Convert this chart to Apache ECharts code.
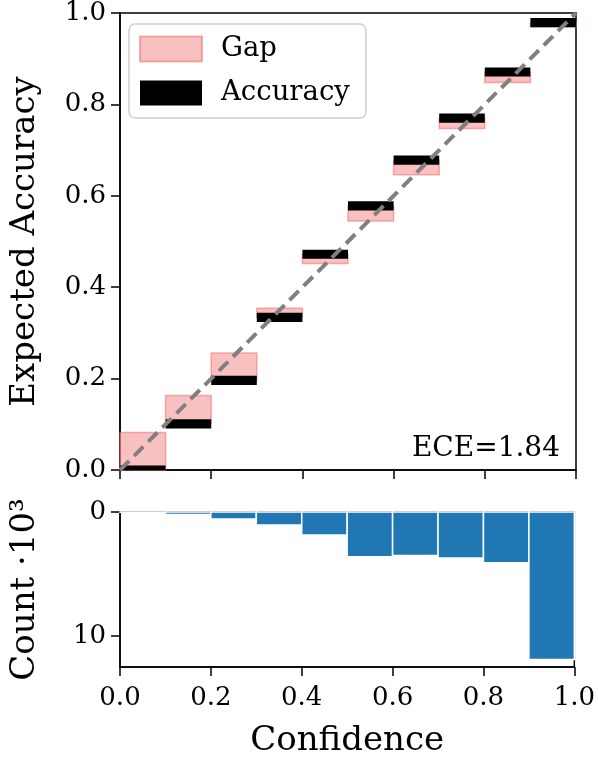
<!DOCTYPE html>
<html>
<head>
<meta charset="utf-8">
<script src="https://cdn.jsdelivr.net/npm/echarts@6/dist/echarts.min.js"></script>
<style>
  html, body { margin: 0; padding: 0; background: #fff; }
  #main { width: 598px; height: 759px; }
</style>
</head>
<body>
<div id="main"></div>
<script>
  // bins of the reliability diagram
  var binStart = [0.0, 0.1, 0.2, 0.3, 0.4, 0.5, 0.6, 0.7, 0.8, 0.9];
  var binEnd = [0.1, 0.2, 0.3, 0.4, 0.5, 0.6, 0.7, 0.8, 0.9, 1.0];
  // mean accuracy and mean confidence per bin
  var accuracy = [0.0, 0.101, 0.196, 0.334, 0.472, 0.578, 0.678, 0.770, 0.871, 0.979];
  var confidence = [0.082, 0.163, 0.256, 0.354, 0.452, 0.545, 0.646, 0.747, 0.848, 0.970];
  // samples per bin, in thousands
  var counts = [0.03, 0.2, 0.56, 1.05, 1.85, 3.6, 3.5, 3.7, 4.1, 11.9];
  var eceText = 'ECE=1.84';

  var font = 'DejaVu Serif';
  var accHalf = 0.01;

  var gapData = [], accData = [], countData = [];
  for (var i = 0; i < binStart.length; i++) {
    gapData.push([binStart[i], binEnd[i], accuracy[i], confidence[i]]);
    accData.push([binStart[i], binEnd[i], accuracy[i] - accHalf, accuracy[i] + accHalf]);
    countData.push([binStart[i], binEnd[i], 0, counts[i]]);
  }

  function rectItem(params, api) {
    var p0 = api.coord([api.value(0), api.value(2)]);
    var p1 = api.coord([api.value(1), api.value(3)]);
    var shape = echarts.graphic.clipRectByRect({
      x: Math.min(p0[0], p1[0]),
      y: Math.min(p0[1], p1[1]),
      width: Math.abs(p1[0] - p0[0]),
      height: Math.abs(p1[1] - p0[1])
    }, {
      x: params.coordSys.x, y: params.coordSys.y,
      width: params.coordSys.width, height: params.coordSys.height
    });
    return shape && { type: 'rect', shape: shape, style: api.style() };
  }

  var tickFmt = function (v) { return v.toFixed(1); };
  var labelStyle = { fontFamily: font, fontSize: 26, color: '#000' };
  var nameStyle = { fontFamily: font, fontSize: 34, color: '#000' };
  var lineStyle = { color: '#000', width: 1.5 };

  var myChart = echarts.init(document.getElementById('main'));
  var option = {
    backgroundColor: '#fff',
    animation: false,
    textStyle: { fontFamily: font },
    title: {
      text: eceText,
      right: 33, top: 430,
      textStyle: { fontFamily: font, fontSize: 28, fontWeight: 'normal', color: '#000' }
    },
    legend: {
      left: 129, top: 24,
      orient: 'vertical',
      data: ['Gap', 'Accuracy'],
      icon: 'rect',
      itemWidth: 62, itemHeight: 25, itemGap: 16,
      padding: [11, 16, 11, 10],
      backgroundColor: '#fff',
      borderColor: '#d0d0d0', borderWidth: 1.5, borderRadius: 6,
      textStyle: { fontFamily: font, fontSize: 27.5, color: '#000', padding: [0, 0, 0, 14] }
    },
    grid: [
      { left: 116, top: 11, width: 460, height: 459, show: true, borderColor: '#000', borderWidth: 1.5, backgroundColor: 'transparent' },
      { left: 116, top: 512, width: 460, height: 155, show: true, borderColor: '#000', borderWidth: 1.5, backgroundColor: 'transparent' }
    ],
    xAxis: [
      {
        gridIndex: 0, type: 'value', min: 0, max: 1, interval: 0.2,
        axisLine: { onZero: false, lineStyle: lineStyle },
        axisTick: { length: 9, lineStyle: lineStyle },
        axisLabel: { show: false },
        splitLine: { show: false }
      },
      {
        gridIndex: 1, type: 'value', min: 0, max: 1, interval: 0.2,
        name: 'Confidence', nameLocation: 'middle', nameGap: 57,
        nameTextStyle: nameStyle,
        axisLine: { onZero: false, lineStyle: lineStyle },
        axisTick: { length: 9, lineStyle: lineStyle },
        axisLabel: Object.assign({ formatter: tickFmt, margin: 18 }, labelStyle),
        splitLine: { show: false }
      }
    ],
    yAxis: [
      {
        gridIndex: 0, type: 'value', min: 0, max: 1, interval: 0.2,
        name: 'Expected Accuracy', nameLocation: 'middle', nameGap: 78,
        nameTextStyle: nameStyle,
        axisLine: { onZero: false, lineStyle: lineStyle },
        axisTick: { length: 9, lineStyle: lineStyle },
        axisLabel: Object.assign({ formatter: tickFmt, margin: 14 }, labelStyle),
        splitLine: { show: false }
      },
      {
        gridIndex: 1, type: 'value', min: 0, max: 12.5, interval: 10, inverse: true,
        name: 'Count ·10³', nameLocation: 'middle', nameGap: 78,
        nameTextStyle: nameStyle,
        axisLine: { onZero: false, lineStyle: lineStyle },
        axisTick: { length: 9, lineStyle: lineStyle },
        axisLabel: Object.assign({ margin: 14, showMaxLabel: false }, labelStyle),
        splitLine: { show: false }
      }
    ],
    series: [
      {
        name: 'Gap', type: 'custom', xAxisIndex: 0, yAxisIndex: 0,
        renderItem: rectItem, data: gapData,
        encode: { x: [0, 1], y: [2, 3] },
        itemStyle: { color: 'rgba(245,150,150,0.6)', borderColor: 'rgba(240,110,110,0.55)', borderWidth: 1.5 },
        z: 2
      },
      {
        name: 'Accuracy', type: 'custom', xAxisIndex: 0, yAxisIndex: 0,
        renderItem: rectItem, data: accData,
        encode: { x: [0, 1], y: [2, 3] },
        itemStyle: { color: '#000' },
        z: 3
      },
      {
        type: 'line', xAxisIndex: 0, yAxisIndex: 0,
        data: [[0, 0], [1, 1]], symbol: 'none',
        lineStyle: { color: '#808080', width: 4, type: [13, 7] },
        z: 4
      },
      {
        name: 'Count', type: 'custom', xAxisIndex: 1, yAxisIndex: 1,
        renderItem: rectItem, data: countData,
        encode: { x: [0, 1], y: [2, 3] },
        itemStyle: { color: '#1f77b4', borderColor: '#fff', borderWidth: 1.5 },
        z: 2
      }
    ]
  };
  myChart.setOption(option);
</script>
</body>
</html>
